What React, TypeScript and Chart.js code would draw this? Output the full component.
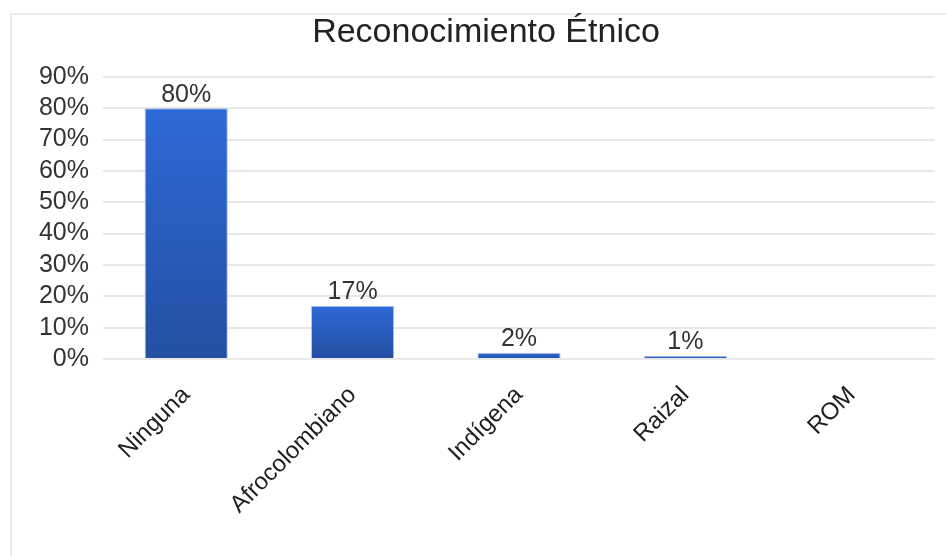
import React, { useEffect, useRef } from "react";
import { Chart, registerables } from "chart.js";

Chart.register(...registerables);

const categories = ["Ninguna", "Afrocolombiano", "Indígena", "Raizal", "ROM"];
const values = [80, 17, 2, 1, 0];
const yTicks = [0, 10, 20, 30, 40, 50, 60, 70, 80, 90];
const titleText = "Reconocimiento Étnico";

const FONT = "'Liberation Sans', Arial, sans-serif";

const valueLabels = {
  id: "valueLabels",
  afterDatasetsDraw(chart: any) {
    const { ctx } = chart;
    const meta = chart.getDatasetMeta(0);
    ctx.save();
    ctx.font = `25px ${FONT}`;
    ctx.fillStyle = "#333333";
    ctx.textAlign = "center";
    ctx.textBaseline = "bottom";
    meta.data.forEach((bar: any, i: number) => {
      const v = values[i];
      if (!v) return;
      ctx.fillText(`${v}%`, bar.x, bar.y - 1);
    });
    ctx.restore();
  },
};

export default function App() {
  const ref = useRef<HTMLCanvasElement>(null);
  useEffect(() => {
    if (!ref.current) return;
    const chart = new Chart(ref.current, {
      type: "bar",
      data: {
        labels: categories,
        datasets: [
          {
            data: values,
            backgroundColor: (c: any) => {
              const ch = c.chart;
              const ys = ch.scales?.y;
              if (!ys || c.dataIndex === undefined) return "#2a5cc0";
              const v = values[c.dataIndex] ?? 0;
              const top = ys.getPixelForValue(v);
              const bottom = ys.getPixelForValue(0);
              if (!isFinite(top) || !isFinite(bottom) || bottom - top < 1) return "#2a5cc0";
              const g = ch.ctx.createLinearGradient(0, top, 0, bottom);
              g.addColorStop(0, "#2e69d7");
              g.addColorStop(1, "#244fa2");
              return g;
            },
            borderColor: "rgba(120,160,230,0.6)",
            borderWidth: 1,
            barPercentage: 0.5,
            categoryPercentage: 1,
          },
        ],
      },
      options: {
        animation: false,
        responsive: false,
        maintainAspectRatio: false,
        layout: { padding: { left: 37, right: 11, top: 0, bottom: 0 } },
        plugins: {
          legend: { display: false },
          tooltip: { enabled: false },
          title: {
            display: true,
            text: titleText,
            color: "#222222",
            font: { family: FONT, size: 34, weight: "normal" },
            padding: { top: 12, bottom: 24 },
          },
        },
        scales: {
          x: {
            grid: { display: false, drawTicks: false },
            border: { display: false },
            ticks: {
              color: "#1e1e1e",
              font: { family: FONT, size: 24 },
              maxRotation: 45,
              minRotation: 45,
              padding: 22,
              autoSkip: false,
            },
            afterFit: (s: any) => {
              s.height = 556 - 359;
            },
          },
          y: {
            min: 0,
            max: 90,
            afterBuildTicks: (s: any) => {
              s.ticks = yTicks.map((v) => ({ value: v }));
            },
            grid: { color: "#e8e8e8", lineWidth: 2, drawTicks: false },
            border: { display: false },
            ticks: {
              color: "#333333",
              font: { family: FONT, size: 25 },
              padding: 14,
              autoSkip: false,
              callback: (v: any) => `${v}%`,
            },
            afterFit: (s: any) => {
              s.width = 66;
            },
          },
        },
      },
      plugins: [valueLabels],
    });
    return () => chart.destroy();
  }, []);
  return (
    <div style={{ position: "absolute", left: 0, top: 0, width: 946, height: 556, background: "#fff" }}>
      <div
        style={{
          position: "absolute",
          left: 10,
          top: 13,
          right: -4,
          bottom: -4,
          borderTop: "2px solid #ececec",
          borderLeft: "2px solid #ececec",
        }}
      />
      <canvas ref={ref} width={946} height={556} style={{ position: "absolute", left: 0, top: 0, width: 946, height: 556 }} />
    </div>
  );
}
